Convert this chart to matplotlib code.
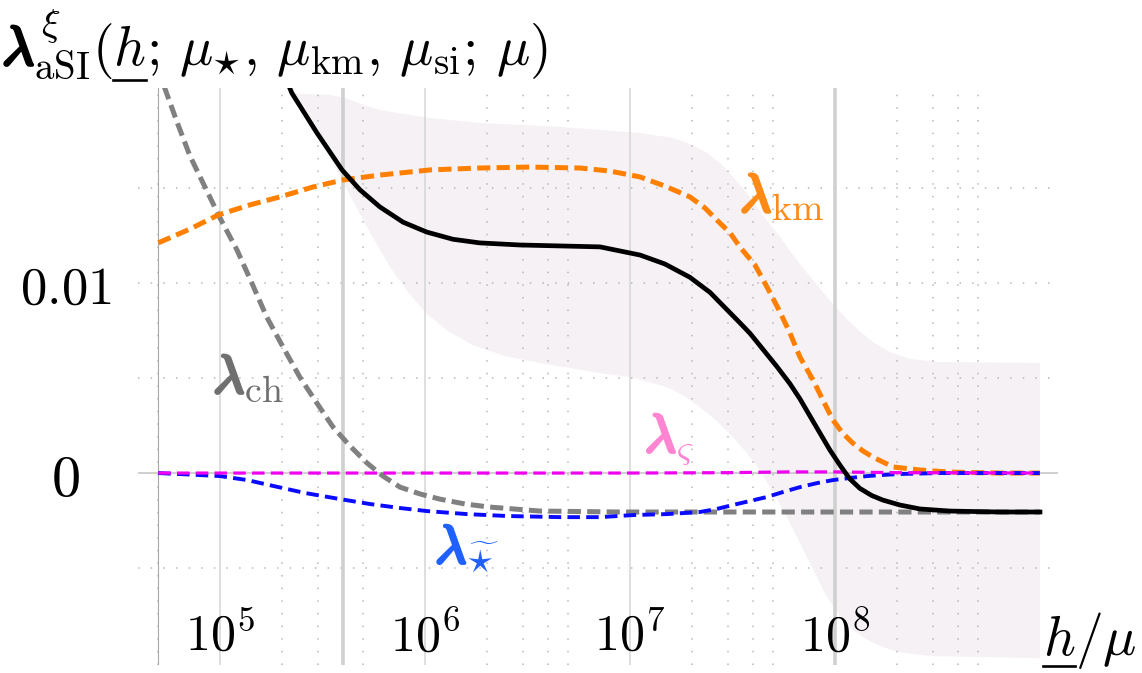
import numpy as np
import matplotlib
matplotlib.use("Agg")
import matplotlib.pyplot as plt
import matplotlib.patheffects as pe
from matplotlib.lines import Line2D

plt.rcParams["mathtext.fontset"] = "cm"
plt.rcParams["lines.scale_dashes"] = False

# ---- data (x = h/mu, y = lambda) ----
black_x = [1.8e5, 2.24e5, 2.97e5, 3.94e5, 4.82e5, 6.03e5, 7.82e5, 1.02e6, 1.37e6, 1.85e6, 2.9e6,
           7.14e6, 1.12e7, 1.48e7, 1.96e7, 2.46e7, 2.97e7, 3.44e7, 3.85e7, 4.46e7, 5.21e7, 6.03e7,
           6.75e7, 7.55e7, 8.45e7, 9.46e7, 1.06e8, 1.18e8, 1.32e8, 1.51e8, 1.71e8, 2.07e8, 2.6e8,
           3.64e8, 6.38e8, 1e9]
black_y = [0.0225, 0.0200, 0.0179, 0.01595, 0.0149, 0.0140, 0.0132, 0.01268, 0.0123, 0.01211, 0.0120,
           0.0119, 0.01147, 0.0110, 0.0103, 0.0095, 0.0086, 0.0079, 0.00735, 0.0065, 0.0056, 0.0047,
           0.0039, 0.0030, 0.0021, 0.0012, 0.0004, -0.0003, -0.0008, -0.00118, -0.00142, -0.00168, -0.00189,
           -0.0020, -0.00205, -0.00205]

km_x = [5e4, 7.14e4, 9.8e4, 1.4e5, 1.96e5, 2.84e5, 3.98e5, 6.03e5, 1.06e6, 1.85e6, 3.25e6, 5.7e6,
        7.98e6, 1.12e7, 1.48e7, 1.96e7, 2.32e7, 2.65e7, 3.08e7, 3.44e7, 4.07e7, 4.66e7, 5.33e7,
        6.03e7, 6.75e7, 7.82e7, 8.73e7, 9.77e7, 1.09e8, 1.22e8, 1.37e8, 1.53e8, 1.92e8, 2.6e8,
        3.64e8, 6.38e8, 1e9]
km_y = [0.01211, 0.01284, 0.01358, 0.01411, 0.01453, 0.01505, 0.01542, 0.01568, 0.01595, 0.01605, 0.0161, 0.01605,
        0.01589, 0.01558, 0.0151, 0.01453, 0.01395, 0.01332, 0.01263, 0.01189, 0.01095, 0.00979, 0.00858,
        0.00737, 0.0061, 0.00489, 0.00384, 0.00279, 0.0021, 0.00158, 0.00116, 0.00084, 0.00032, 0.00016,
        0.00005, 0.0, 0.0]

ch_x = [5e4, 5.4e4, 6.17e4, 7.14e4, 8.45e4, 1e5, 1.21e5, 1.43e5, 1.69e5, 2.03e5, 2.45e5, 2.97e5,
        3.56e5, 4.31e5, 5.21e5, 6.24e5, 7.55e5, 9.46e5, 1.18e6, 1.57e6, 2.07e6, 3.64e6, 8.93e6, 1e9]
ch_y = [0.0213, 0.0202, 0.01847, 0.01668, 0.01505, 0.01342, 0.01174, 0.0100, 0.00821, 0.00663, 0.00505, 0.00368,
        0.00242, 0.00142, 0.00053, -0.00016, -0.00074, -0.0011, -0.00137, -0.00163, -0.00179, -0.0020, -0.00205, -0.00205]

star_x = [5e4, 7.14e4, 1e5, 1.36e5, 1.82e5, 2.6e5, 3.85e5, 5.39e5, 7.55e5, 1.02e6, 1.6e6, 2.51e6,
          4.56e6, 7.14e6, 1.04e7, 1.51e7, 2.19e7, 2.65e7, 3.18e7, 3.85e7, 4.66e7, 5.57e7, 6.75e7,
          8.17e7, 9.77e7, 1.18e8, 1.43e8, 1.71e8, 2.07e8, 3.25e8, 1e9]
star_y = [0.0, -0.00008, -0.00016, -0.00037, -0.00068, -0.00105, -0.00137, -0.00163, -0.00184, -0.0020, -0.00216, -0.00226,
          -0.00232, -0.00232, -0.00221, -0.00216, -0.00205, -0.00189, -0.00168, -0.00147, -0.00126, -0.0010, -0.00074,
          -0.00053, -0.00037, -0.00026, -0.00016, -0.0001, -0.00005, 0.0, 0.0]

vs_x = [5e4, 1e7, 3e7, 6e7, 1e8, 2e8, 1e9]
vs_y = [0.0, 0.0, 0.00002, 0.00006, 0.00006, 0.00002, 0.0]

band_up_x = [2.32e5, 2.45e5, 3.44e5, 4.06e5, 4.99e5, 6.03e5, 7.3e5, 1.06e6, 1.85e6, 4.56e6, 7.14e6,
             1.12e7, 1.62e7, 1.96e7, 2.38e7, 2.75e7, 3.18e7, 3.64e7, 4.17e7, 4.71e7, 5.4e7, 6.24e7,
             7.3e7, 8.17e7, 9.14e7, 1.15e8, 1.32e8, 1.53e8, 1.85e8, 2.32e8, 3.25e8, 1e9]
band_up_y = [0.0200, 0.01995, 0.0199, 0.01974, 0.01937, 0.0191, 0.01895, 0.01868, 0.01842, 0.01821, 0.01805,
             0.01789, 0.01763, 0.01732, 0.01684, 0.01632, 0.01558, 0.01484, 0.0140, 0.01321, 0.01242, 0.01147,
             0.01053, 0.0099, 0.00926, 0.00805, 0.00747, 0.00689, 0.00637, 0.0060, 0.00584, 0.00579]
band_lo_x = [2.32e5, 2.6e5, 2.84e5, 3.15e5, 3.44e5, 4.17e5, 5.21e5, 6.75e5, 8.26e5, 1.02e6, 1.32e6,
             1.71e6, 2.45e6, 3.64e6, 7.14e6, 1e7, 1.51e7, 1.85e7, 2.19e7, 2.65e7, 3.18e7, 3.72e7,
             4.3e7, 4.99e7, 5.83e7, 6.53e7, 7.3e7, 8.17e7, 9.14e7, 1.06e8, 1.22e8, 1.45e8, 1.71e8,
             2.07e8, 2.9e8, 1e9]
band_lo_y = [0.0200, 0.01921, 0.01842, 0.01753, 0.01663, 0.01489, 0.01295, 0.01084, 0.00953, 0.00837, 0.00742,
             0.00674, 0.00616, 0.00579, 0.00526, 0.00505, 0.00453, 0.00405, 0.00347, 0.00274, 0.00189, 0.00105,
             0.00016, -0.0010, -0.00232, -0.00337, -0.00442, -0.00547, -0.00653, -0.00753, -0.00826, -0.00879, -0.00916,
             -0.00942, -0.00963, -0.00974]

x_ticks = [1e5, 1e6, 1e7, 1e8]
x_tick_labels = [r"$10^{5}$", r"$10^{6}$", r"$10^{7}$", r"$10^{8}$"]
y_ticks = [0.0, 0.01]
y_tick_labels = [r"$0$", r"$0.01$"]
marked_x = [4e5, 1e8]
minor_x = [5e4] + [m * 10.0 ** e for e in range(5, 9) for m in (2, 3, 4, 5)]
dotted_y = [-0.005, 0.005, 0.01, 0.015]

W, H = 1142, 673
FS = 36
LFS = 39


def bold_lambda_label(ax, x, y, sub, color):
    ax.text(x, y, r"$\lambda_{%s}$" % sub, color=color, fontsize=LFS,
            ha="left", va="baseline", zorder=8)
    ax.text(x, y, r"$\lambda$", color=color, fontsize=LFS, ha="left", va="baseline", zorder=8,
            path_effects=[pe.withStroke(linewidth=2.2, foreground=color)])


def text_row(fig, x_px, y_px, pieces, size, underline, drop, bold_first=False):
    # draws pieces of math one after another, underlining one of them
    r = fig.canvas.get_renderer()
    x = x_px
    for i, s in enumerate(pieces):
        t = fig.text(x / W, y_px / H, s, fontsize=size, ha="left", va="baseline")
        bb = t.get_window_extent(r)
        if i == 0 and bold_first:
            fig.text(x / W, y_px / H, r"$\lambda$", fontsize=size, ha="left", va="baseline",
                     path_effects=[pe.withStroke(linewidth=2.2, foreground="black")])
        if i == underline:
            fig.add_artist(Line2D([bb.x0 / W, bb.x1 / W], [(y_px - drop) / H] * 2,
                                  color="black", lw=1.9))
        x = bb.x1


fig = plt.figure(figsize=(W / 100, H / 100), dpi=100)
ax = fig.add_axes([138 / W, 8 / H, (1058 - 138) / W, (665 - 88) / H])
ax.set_xscale("log")
ax.set_xlim(10 ** 4.6, 10 ** 9.088)
ax.set_ylim(-0.0101, 0.02026)
for s in ax.spines.values():
    s.set_visible(False)

# uncertainty band
ax.fill(np.concatenate([band_up_x, band_lo_x[::-1]]),
        np.concatenate([band_up_y, band_lo_y[::-1]]),
        color="#f5f1f5", lw=0, zorder=0.5)

# grid
dot = dict(color="#b8b8b8", lw=1.1, dashes=(1.1, 8.0), zorder=1)
for xv in minor_x:
    ax.axvline(xv, **dot)
for yv in dotted_y:
    ax.axhline(yv, **dot)
ax.axvline(minor_x[0], color="#a8a8a8", lw=0.8, zorder=1)
for xv in x_ticks:
    ax.axvline(xv, color="#d6d6d6", lw=1.1, zorder=1)
for xv in marked_x:
    ax.axvline(xv, color="#d0d0d0", lw=2.6, zorder=1)
ax.axhline(0, color="#c8c8c8", lw=1.2, zorder=1)

# curves
ax.plot(ch_x, ch_y, color="#808080", lw=3.6, dashes=(9.5, 4.5), zorder=3)
ax.plot(km_x, km_y, color="#ff8000", lw=3.6, dashes=(9.5, 4.5), zorder=3)
ax.plot(star_x, star_y, color="#0a0aff", lw=2.8, dashes=(9.0, 4.5), zorder=4)
ax.plot(vs_x, vs_y, color="#f000f0", lw=2.3, dashes=(9.0, 4.5), zorder=5)
ax.plot(black_x, black_y, color="black", lw=3.4, zorder=6)

# curve labels
bold_lambda_label(ax, 3.44e7, 0.01374, r"\mathrm{km}", "#ff8a16")
bold_lambda_label(ax, 9.25e4, 0.00421, r"\mathrm{ch}", "#707070")
bold_lambda_label(ax, 1.18e7, 0.0011, r"\varsigma", "#ff85d2")
bold_lambda_label(ax, 1.12e6, -0.00474, r"\widetilde{\star}", "#2060ff")

# ticks
ax.set_xticks(x_ticks)
ax.set_xticklabels(x_tick_labels)
ax.minorticks_off()
ax.tick_params(axis="x", length=0, pad=-38, labelsize=FS)
ax.set_yticks(y_ticks)
ax.set_yticklabels(y_tick_labels)
ax.tick_params(axis="y", length=0, pad=52, labelsize=FS + 2)
for lbl in ax.get_yticklabels():
    lbl.set_horizontalalignment("center")
ax.get_yticklabels()[0].set_fontsize(42)

# axis titles
text_row(fig, 2, 608,
         [r"$\lambda^{\xi}_{\mathrm{aSI}}($", r"$h$",
          r"$;\,\mu_{\star},\,\mu_{\mathrm{km}},\,\mu_{\mathrm{si}};\,\mu)$"],
         40, underline=1, drop=15, bold_first=True)
text_row(fig, 1043, 18, [r"$h$", r"$/\mu$"], 40, underline=0, drop=11)

fig.savefig("out.png", dpi=100)
